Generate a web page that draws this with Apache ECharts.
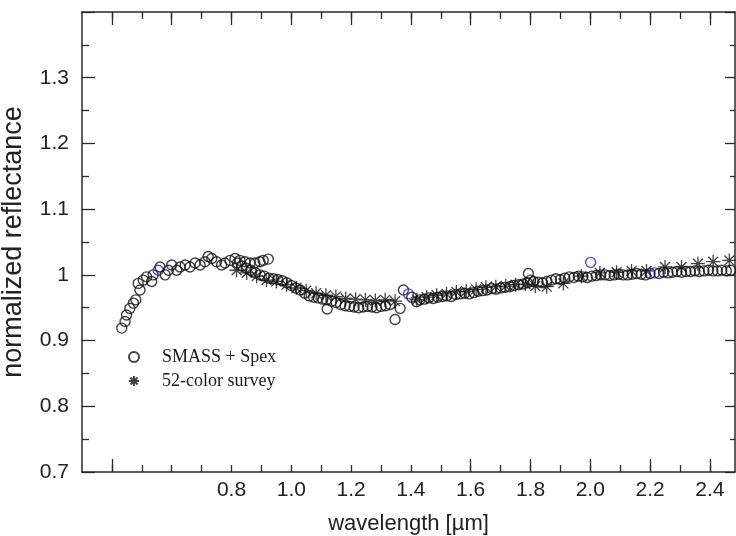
<!DOCTYPE html>
<html><head><meta charset="utf-8">
<script src="https://cdn.jsdelivr.net/npm/echarts@6/dist/echarts.min.js"></script>
<style>html,body{margin:0;padding:0;background:#fff}#c{width:736px;height:536px}</style>
</head><body><div id="c"></div>
<script>
// SMASS visible spectrum (circles)
const smassWl = [0.433,0.444,0.449,0.46,0.472,0.48,0.488,0.494,0.505,0.516,0.533,0.538,0.555,0.561,0.578,0.589,0.6,0.617,0.628,0.645,0.661,0.678,0.695,0.711,0.722,0.734,0.75,0.767,0.778,0.795,0.812,0.828,0.845,0.862,0.878,0.895,0.906,0.923];
const smassR  = [0.919,0.929,0.939,0.949,0.957,0.962,0.987,0.977,0.992,0.997,0.99,1.0,1.007,1.012,1.0,1.007,1.015,1.007,1.012,1.015,1.012,1.018,1.015,1.02,1.028,1.025,1.02,1.015,1.018,1.022,1.025,1.022,1.02,1.018,1.018,1.02,1.022,1.024];
// SpeX near-IR spectrum (circles)
const spexWl = [0.82,0.835,0.85,0.865,0.88,0.895,0.91,0.925,0.94,0.955,0.97,0.985,1.0,1.015,1.03,1.045,1.06,1.075,1.09,1.105,1.118,1.12,1.135,1.15,1.165,1.18,1.195,1.21,1.225,1.24,1.255,1.27,1.285,1.3,1.315,1.33,1.347,1.364,
  1.375,1.392,1.403,1.419,
  1.43,1.445,1.46,1.475,1.49,1.505,1.52,1.535,1.55,1.565,1.58,1.595,1.61,1.625,1.64,1.655,1.67,1.685,1.70,1.715,1.73,1.745,1.76,1.775,1.79,1.793,1.80,1.81,1.825,1.84,1.855,1.87,1.885,1.90,1.915,1.93,1.945,1.96,1.975,1.99,2.001,2.005,2.02,2.035,2.05,2.065,2.08,2.095,2.11,2.125,2.14,2.155,2.17,2.185,2.20,2.215,2.23,2.245,2.26,2.275,2.29,2.305,2.32,2.335,2.35,2.365,2.38,2.395,2.41,2.425,2.44,2.455,2.47];
const spexR  = [1.018,1.013,1.01,1.007,1.003,1.0,0.998,0.995,0.994,0.993,0.991,0.988,0.984,0.98,0.977,0.972,0.968,0.966,0.965,0.963,0.962,0.948,0.96,0.958,0.955,0.953,0.952,0.951,0.95,0.951,0.952,0.951,0.95,0.952,0.953,0.955,0.932,0.949,
  0.977,0.971,0.966,0.959,
  0.962,0.963,0.965,0.964,0.966,0.967,0.968,0.967,0.97,0.971,0.972,0.971,0.973,0.975,0.976,0.977,0.979,0.978,0.98,0.981,0.982,0.984,0.985,0.986,0.988,1.002,0.992,0.99,0.989,0.988,0.99,0.992,0.994,0.993,0.995,0.997,0.996,0.998,0.997,0.996,1.019,0.998,0.999,1.0,1.0,0.999,1.0,1.001,1.0,1.0,1.001,1.002,1.001,1.0,1.002,1.003,1.002,1.004,1.003,1.004,1.005,1.004,1.005,1.005,1.006,1.005,1.006,1.007,1.006,1.006,1.007,1.006,1.007];
// 52-color survey (asterisks)
const colorWl = [0.817,0.851,0.884,0.917,0.95,0.984,1.017,1.05,1.083,1.116,1.149,1.182,1.215,1.248,1.281,1.314,1.347,
  1.42,1.453,1.486,1.519,1.552,1.585,1.618,1.651,1.684,1.717,1.75,1.783,1.816,1.854,1.91,1.97,
  2.032,2.088,2.138,2.188,2.25,2.305,2.36,2.411,2.465];
const colorR  = [1.007,1.003,0.998,0.992,0.99,0.985,0.98,0.976,0.972,0.969,0.967,0.964,0.963,0.962,0.961,0.962,0.96,
  0.962,0.966,0.969,0.971,0.974,0.975,0.978,0.981,0.982,0.983,0.985,0.986,0.983,0.982,0.987,0.998,
  1.003,1.004,1.006,1.006,1.012,1.012,1.017,1.02,1.022];
// wavelengths of circles drawn with a blue outline in the original
const blueCircleWl = [0.555,1.392,2.001,2.215];

const xTickValues = [0.4,0.5,0.6,0.7,0.8,0.9,1.0,1.1,1.2,1.3,1.4,1.5,1.6,1.7,1.8,1.9,2.0,2.1,2.2,2.3,2.4];
const xBottomMajorTicks = [0.4,1.6,1.8,2.0,2.2,2.4];
const xTopMajorTicks = [0.4,0.6,0.8,1.0,1.2,1.4,1.6,1.8,2.0,2.2,2.4];
const xLabelValues = [0.8,1.0,1.2,1.4,1.6,1.8,2.0,2.2,2.4];
const yLabelValues = [0.7,0.8,0.9,1.0,1.1,1.2,1.3];

const ASTERISK = 'path://M6,0L6,12M0,6L12,6M1.76,1.76L10.24,10.24M1.76,10.24L10.24,1.76';
const toItem = (w,r) => blueCircleWl.includes(w)
  ? {value:[w,r], itemStyle:{borderColor:'#2a1fd0'}} : [w,r];
const circleData = smassWl.map((w,i)=>toItem(w,smassR[i])).concat(spexWl.map((w,i)=>toItem(w,spexR[i])));
const starData = colorWl.map((w,i)=>[w,colorR[i]]);

const AX = '#2a2a2a';
const FONT = 'Liberation Sans';
const XMIN = 0.3, XMAX = 2.484;
function xAx(extra){
  return Object.assign({type:'value',min:XMIN,max:XMAX,splitLine:{show:false},
    axisLine:{show:false},axisLabel:{show:false},axisTick:{show:false}},extra);
}
const chart = echarts.init(document.getElementById('c'),null,{renderer:'canvas'});
chart.setOption({
  backgroundColor:'#fff',
  animation:false,
  grid:{left:82,right:1,top:12,bottom:64,outerBoundsMode:'none'},
  legend:{
    orient:'vertical',left:123,top:343,itemWidth:46,itemHeight:10,itemGap:6,
    textStyle:{fontFamily:'Liberation Serif',fontSize:18,color:'#1a1a1a',lineHeight:18},
    data:['SMASS + Spex','52-color survey']
  },
  xAxis:[
    xAx({position:'bottom',
      axisLine:{show:true,onZero:false,lineStyle:{color:AX,width:1.5}},
      axisTick:{show:true,inside:true,length:7,lineStyle:{color:AX,width:1.3},customValues:xTickValues},
      axisLabel:{show:true,customValues:xLabelValues,formatter:v=>v.toFixed(1),
        fontFamily:FONT,fontSize:21,color:'#222',margin:8},
      name:'wavelength [µm]',nameLocation:'middle',nameGap:41,
      nameTextStyle:{fontFamily:FONT,fontSize:22,color:'#222'}}),
    xAx({position:'bottom',
      axisTick:{show:true,inside:true,length:13,lineStyle:{color:AX,width:1.3},customValues:xBottomMajorTicks}}),
    xAx({position:'top',
      axisLine:{show:true,onZero:false,lineStyle:{color:AX,width:1.5}},
      axisTick:{show:true,inside:true,length:7,lineStyle:{color:AX,width:1.3},customValues:xTickValues}}),
    xAx({position:'top',
      axisTick:{show:true,inside:true,length:13,lineStyle:{color:AX,width:1.3},customValues:xTopMajorTicks}})
  ],
  yAxis:[
    {type:'value',min:0.7,max:1.4,interval:0.1,position:'left',splitLine:{show:false},
      axisLine:{show:true,onZero:false,lineStyle:{color:AX,width:1.5}},
      axisTick:{show:true,inside:true,length:13,lineStyle:{color:AX,width:1.3}},
      minorTick:{show:true,splitNumber:2,length:7,lineStyle:{color:AX,width:1.3}},
      axisLabel:{customValues:yLabelValues,fontFamily:FONT,fontSize:21,color:'#222',margin:13},
      name:'normalized reflectance',nameLocation:'middle',nameRotate:90,nameGap:55,
      nameTextStyle:{fontFamily:FONT,fontSize:27,color:'#222'}},
    {type:'value',min:0.7,max:1.4,interval:0.1,position:'right',splitLine:{show:false},
      axisLine:{show:true,onZero:false,lineStyle:{color:AX,width:1.5}},
      axisTick:{show:true,inside:true,length:10,lineStyle:{color:AX,width:1.3}},
      minorTick:{show:true,splitNumber:2,length:5,lineStyle:{color:AX,width:1.3}},
      axisLabel:{show:false}}
  ],
  series:[
    {name:'SMASS + Spex',type:'scatter',xAxisIndex:0,yAxisIndex:0,data:circleData,
      symbol:'circle',symbolSize:10,
      itemStyle:{color:'rgba(255,255,255,0)',borderColor:'#111',borderWidth:1.4}},
    {name:'52-color survey',type:'scatter',xAxisIndex:0,yAxisIndex:0,data:starData,
      symbol:ASTERISK,symbolSize:14,
      itemStyle:{color:'rgba(255,255,255,0)',borderColor:'#111',borderWidth:1.3}}
  ]
});
</script></body></html>
